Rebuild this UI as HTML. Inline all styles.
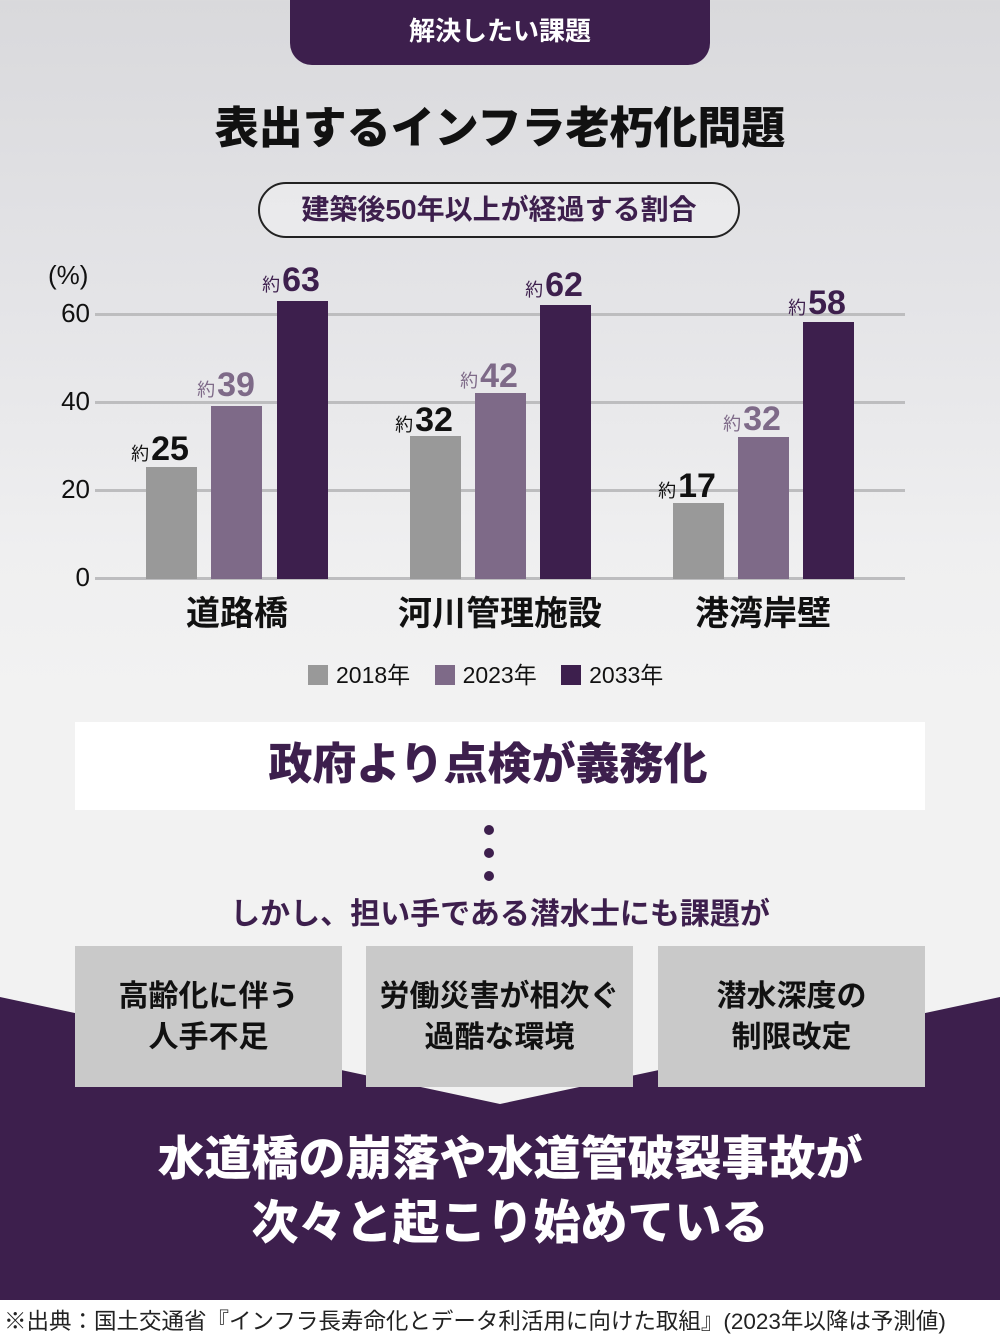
<!DOCTYPE html>
<html><head><meta charset="utf-8"><style>
*{margin:0;padding:0;box-sizing:border-box}
body{width:1000px;height:1340px;position:relative;overflow:hidden;font-family:"Liberation Sans","Noto Sans CJK JP",sans-serif;background:linear-gradient(#d9d9dc 0px,#e4e4e7 300px,#efeff0 550px,#f2f2f2 700px,#f2f2f2 100%)}
.a{position:absolute}
.c{text-align:center}
.tick{position:absolute;left:40px;width:50px;text-align:right;font-size:26px;color:#111}
.grid{position:absolute;left:95px;width:810px;height:3px;background:#bdbdbf}
.bar{position:absolute;width:51px}
.g{background:#999}.l{background:#7e6a88}.d{background:#3d1f4d}
.v{position:absolute;font-weight:bold;font-size:34px;white-space:nowrap;text-align:center;width:120px;line-height:1}
.v small{font-size:18px;font-weight:normal;margin-right:2px}
.cat{position:absolute;top:586px;font-size:34px;font-weight:bold;color:#111;width:260px;text-align:center}
.box{position:absolute;top:946px;width:267px;height:141px;background:#c9c9c9;display:flex;align-items:center;justify-content:center;text-align:center;font-size:30px;font-weight:bold;line-height:41px;color:#111}
</style></head><body>
<svg class="a" style="left:0;top:0" width="1000" height="1340"><polygon points="0,997 500,1104 1000,997 1000,1300 0,1300" fill="#3d1f4d"/></svg>
<div class="a c" style="left:290px;top:0;width:420px;height:65px;background:#3d1f4d;border-radius:0 0 22px 22px;color:#fff;font-size:26px;font-weight:bold;line-height:62px">解決したい課題</div>
<div class="a c" style="left:0;top:92px;width:1000px;font-size:44px;font-weight:900;color:#111">表出するインフラ老朽化問題</div>
<div class="a c" style="left:258px;top:182px;width:482px;height:56px;border:2px solid #222;border-radius:28px;font-size:28px;font-weight:bold;color:#3d1f4d;line-height:52px;background:rgba(255,255,255,0.3)">建築後50年以上が経過する割合</div>
<div class="a" style="left:48px;top:260px;font-size:26px;color:#111">(%)</div>
<div class="grid" style="top:313px"></div><div class="grid" style="top:401px"></div><div class="grid" style="top:489px"></div><div class="grid" style="top:577px"></div>
<div class="tick" style="top:298px">60</div><div class="tick" style="top:386px">40</div><div class="tick" style="top:474px">20</div><div class="tick" style="top:562px">0</div>
<div class="bar g" style="left:146px;top:467px;height:112px"></div>
<div class="bar l" style="left:211px;top:406px;height:173px"></div>
<div class="bar d" style="left:277px;top:301px;height:278px"></div>
<div class="bar g" style="left:410px;top:436px;height:143px"></div>
<div class="bar l" style="left:475px;top:393px;height:186px"></div>
<div class="bar d" style="left:540px;top:305px;height:274px"></div>
<div class="bar g" style="left:673px;top:503px;height:76px"></div>
<div class="bar l" style="left:738px;top:437px;height:142px"></div>
<div class="bar d" style="left:803px;top:322px;height:257px"></div>
<div class="v" style="left:100px;top:432px;color:#111"><small>約</small>25</div>
<div class="v" style="left:166px;top:368px;color:#7e6a88"><small>約</small>39</div>
<div class="v" style="left:231px;top:263px;color:#3d1f4d"><small>約</small>63</div>
<div class="v" style="left:364px;top:403px;color:#111"><small>約</small>32</div>
<div class="v" style="left:429px;top:359px;color:#7e6a88"><small>約</small>42</div>
<div class="v" style="left:494px;top:268px;color:#3d1f4d"><small>約</small>62</div>
<div class="v" style="left:627px;top:469px;color:#111"><small>約</small>17</div>
<div class="v" style="left:692px;top:402px;color:#7e6a88"><small>約</small>32</div>
<div class="v" style="left:757px;top:286px;color:#3d1f4d"><small>約</small>58</div>
<div class="cat" style="left:107px">道路橋</div>
<div class="cat" style="left:370px">河川管理施設</div>
<div class="cat" style="left:633px">港湾岸壁</div>
<div class="a" style="left:308px;top:656px;font-size:23px;color:#111;white-space:nowrap">
<span style="display:inline-block;width:20px;height:20px;background:#999;vertical-align:-2px;margin-right:8px"></span>2018年
<span style="display:inline-block;width:20px;height:20px;background:#7e6a88;vertical-align:-2px;margin:0 8px 0 18px"></span>2023年
<span style="display:inline-block;width:20px;height:20px;background:#3d1f4d;vertical-align:-2px;margin:0 8px 0 18px"></span>2033年</div>
<div class="a c" style="left:75px;top:722px;width:850px;height:88px;background:#fff;font-size:44px;font-weight:900;color:#3d1f4d;line-height:86px;padding-right:24px">政府より点検が義務化</div>
<div class="a" style="left:484px;top:825px;width:10px;height:10px;border-radius:5px;background:#3d1f4d"></div>
<div class="a" style="left:484px;top:848px;width:10px;height:10px;border-radius:5px;background:#3d1f4d"></div>
<div class="a" style="left:484px;top:871px;width:10px;height:10px;border-radius:5px;background:#3d1f4d"></div>
<div class="a c" style="left:0;top:889px;width:1000px;font-size:30px;font-weight:bold;color:#3d1f4d">しかし、担い手である潜水士にも課題が</div>
<div class="box" style="left:75px">高齢化に伴う<br>人手不足</div>
<div class="box" style="left:366px">労働災害が相次ぐ<br>過酷な環境</div>
<div class="box" style="left:658px">潜水深度の<br>制限改定</div>
<div class="a c" style="left:10px;top:1127px;width:1000px;font-size:47px;font-weight:900;color:#fff;line-height:64px">水道橋の崩落や水道管破裂事故が<br>次々と起こり始めている</div>
<div class="a" style="left:0;top:1300px;width:1000px;height:40px;background:#fff"></div>
<div class="a" style="left:4px;top:1304px;font-size:22.5px;color:#222;white-space:nowrap">※出典：国土交通省『インフラ長寿命化とデータ利活用に向けた取組』(2023年以降は予測値)</div>
</body></html>
